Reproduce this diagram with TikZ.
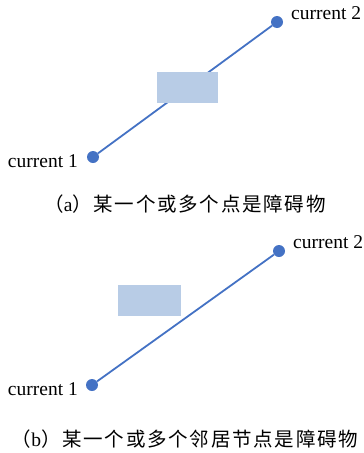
\documentclass[tikz,border=0pt]{standalone}
\usepackage{fontspec}
\setmainfont{Liberation Serif}
\newfontfamily\cjk[LetterSpace=9]{Noto Sans CJK SC}
\definecolor{lineblue}{HTML}{4472C4}
\definecolor{boxblue}{HTML}{B8CCE6}
\begin{document}
\begin{tikzpicture}[x=1pt,y=-1pt,
  dotnode/.style={circle,fill=lineblue,inner sep=0pt,minimum size=12pt},
  link/.style={draw=lineblue,line width=1.8pt},
  lbl/.style={font=\fontsize{19.5}{20}\selectfont,inner sep=0pt},
  captext/.style={font=\fontsize{19.5}{20}\selectfont\cjk,inner sep=0pt}]
\useasboundingbox (0,0) rectangle (364,453);
% (a)
\node[dotnode] (a1) at (93,157) {};
\node[dotnode] (a2) at (277,22) {};
\draw[link] (a1) -- (a2);
\fill[boxblue] (157,72) rectangle (218,103);
\node[lbl,anchor=base east] (la1) at (78,167) {current 1};
\node[lbl,anchor=base west] (la2) at (291,19) {current 2};
\node[captext] (capa) at (185,204) {（{\rmfamily a}）某一个或多个点是障碍物};
% (b)
\node[dotnode] (b1) at (92,385) {};
\node[dotnode] (b2) at (279,251) {};
\fill[boxblue] (118,285) rectangle (181,316);
\draw[link] (b1) -- (b2);
\node[lbl,anchor=base east] (lb1) at (78,395) {current 1};
\node[lbl,anchor=base west] (lb2) at (293,248) {current 2};
\node[captext] (capb) at (185,439) {（{\rmfamily b}）某一个或多个邻居节点是障碍物};
\end{tikzpicture}
\end{document}
